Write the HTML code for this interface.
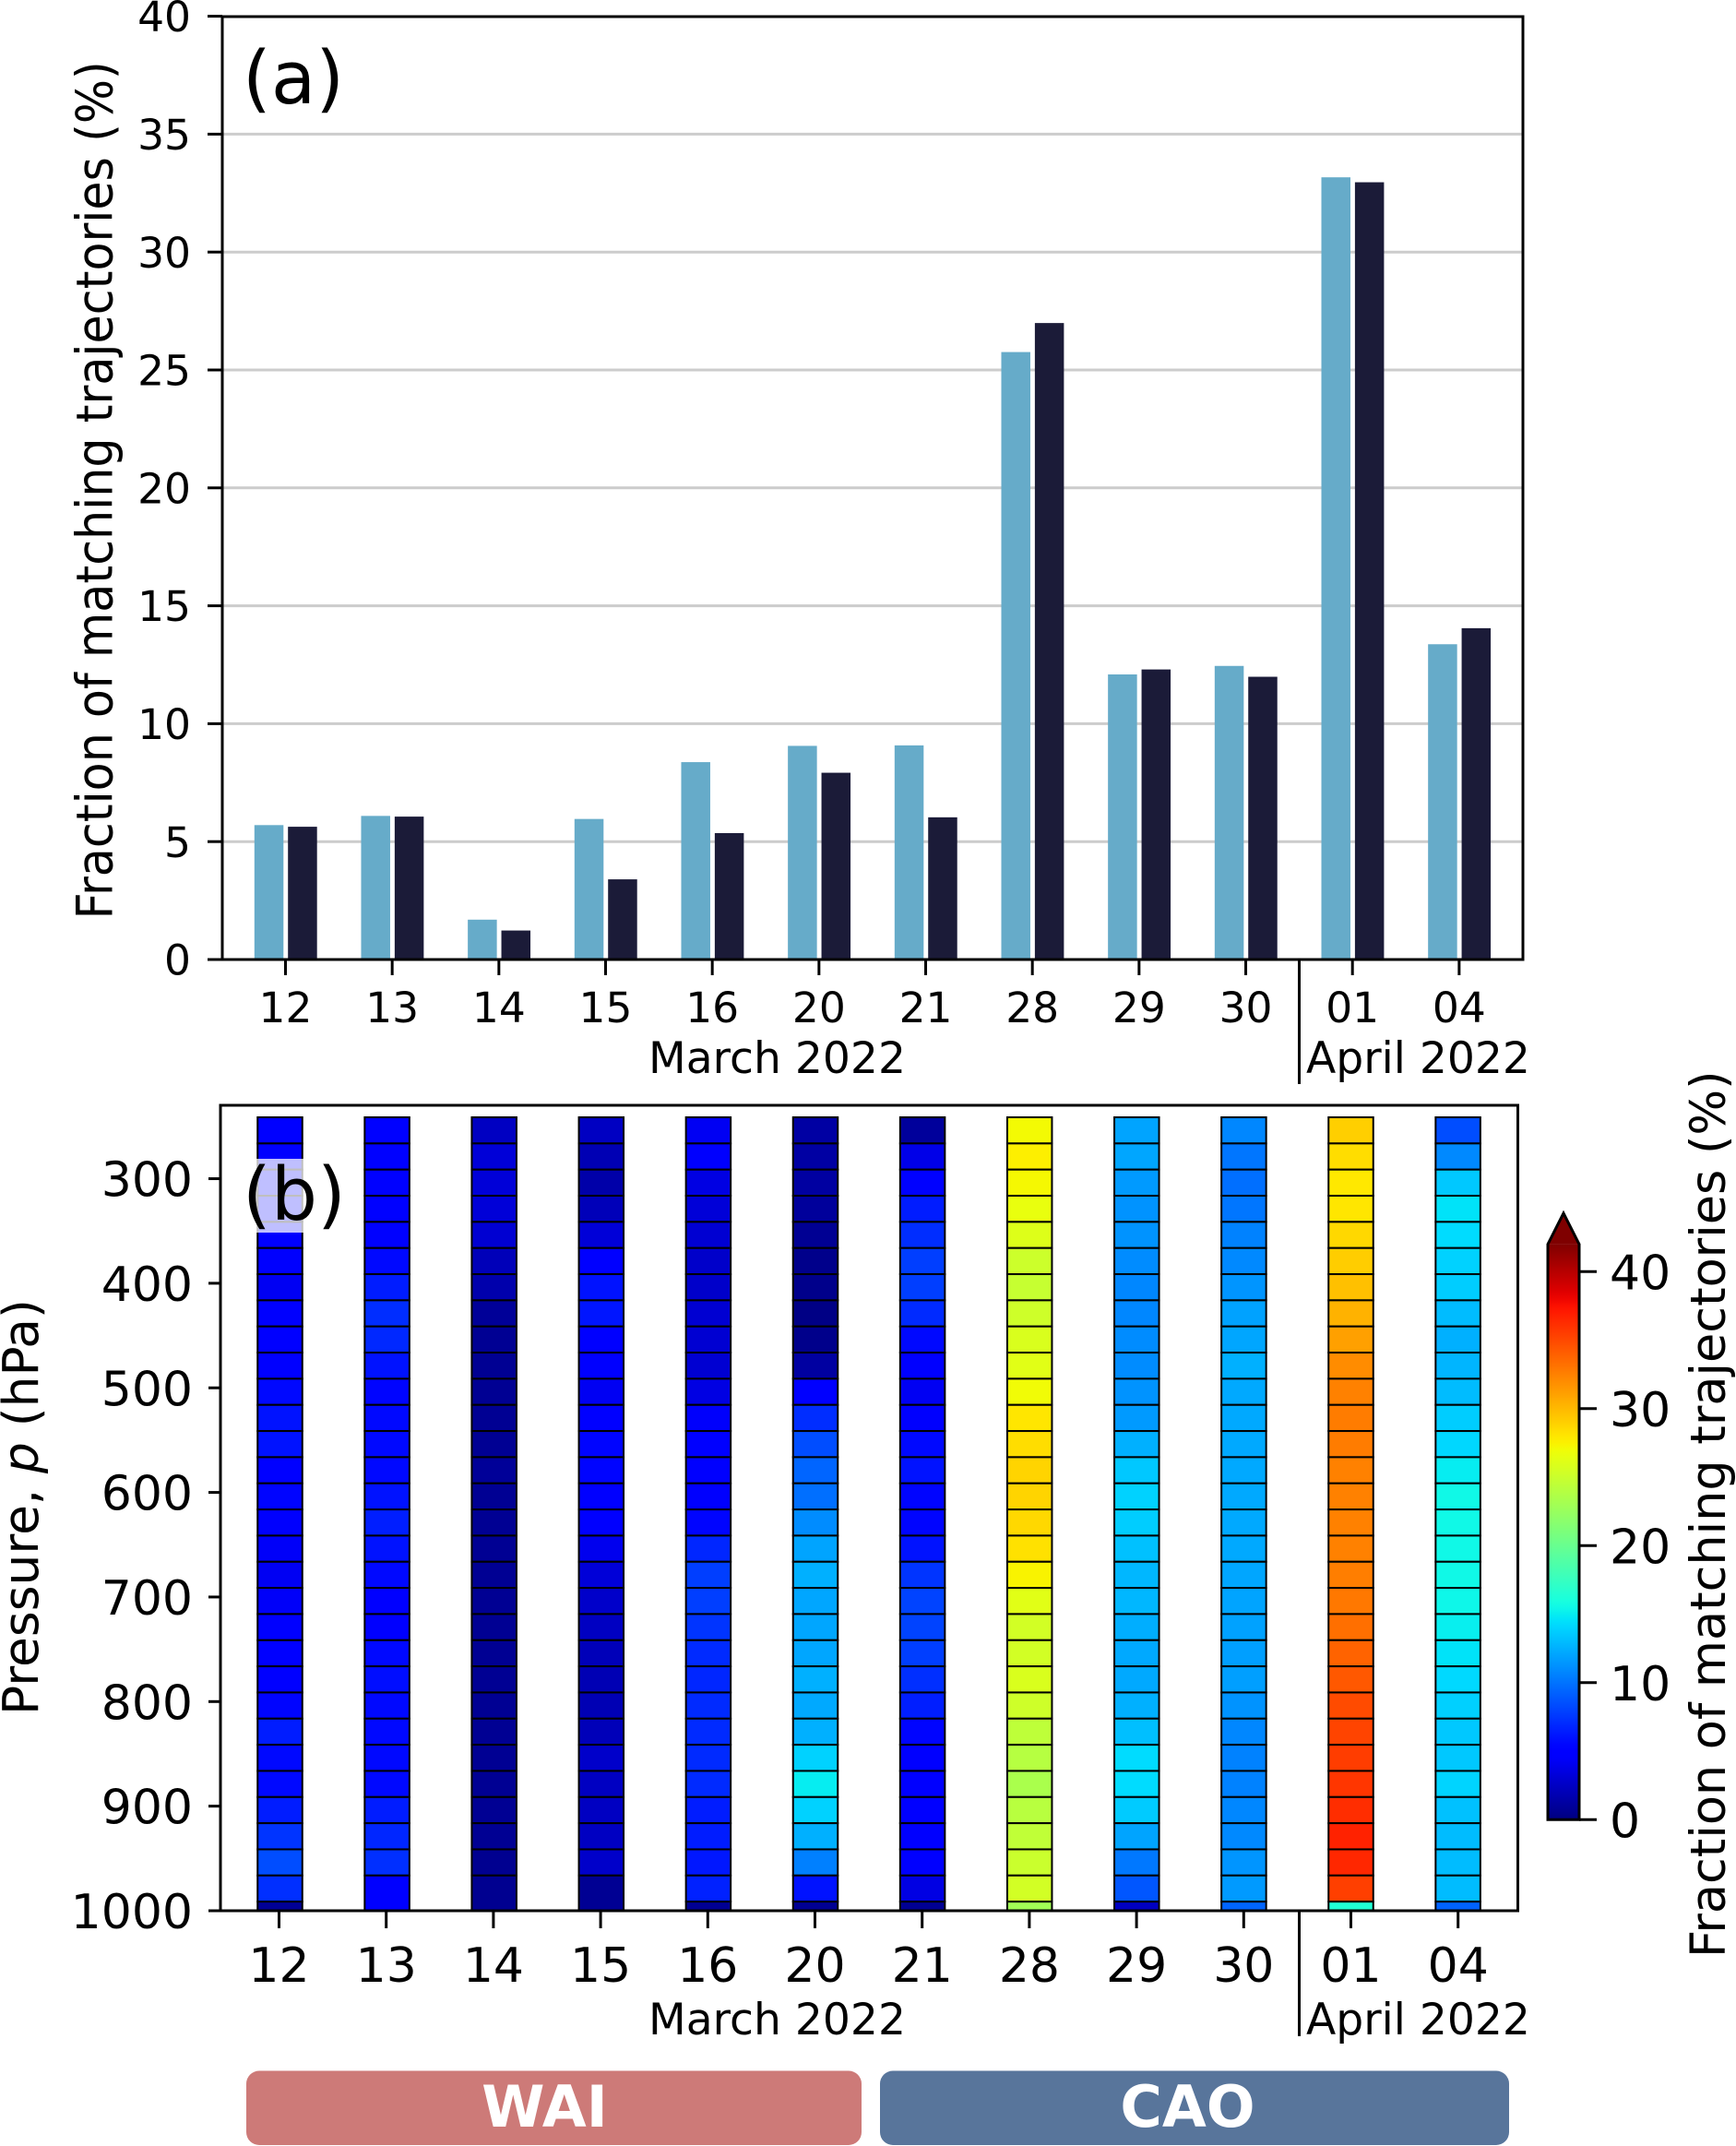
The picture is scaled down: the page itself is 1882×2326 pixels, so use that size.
<!DOCTYPE html>
<html lang="en">
<head>
<meta charset="utf-8">
<title>Fraction of matching trajectories</title>
<style>
html,body{margin:0;padding:0;background:#fff;width:1882px;height:2326px;overflow:hidden}
svg{display:block}
text{font-family:"DejaVu Sans","Liberation Sans",sans-serif;fill:#000}
</style>
</head>
<body>
<svg id="fig" xmlns="http://www.w3.org/2000/svg" width="1882" height="2326" viewBox="0 0 1882 2326">
  <defs>
    <linearGradient id="jetGrad" x1="0" y1="1" x2="0" y2="0"></linearGradient>
  </defs>
  <g id="panelA"></g>
  <g id="panelB"></g>
  <g id="cbar"></g>

  <text font-size="50.7" transform="translate(121.7,996.5) rotate(-90) scale(1,1.08)">Fraction of matching trajectories (%)</text>
  <text font-size="53.4" transform="translate(41,1859) rotate(-90)">Pressure, <tspan font-style="italic">p</tspan> (hPa)</text>
  <text font-size="52.4" transform="translate(1870,2122) rotate(-90)">Fraction of matching trajectories (%)</text>

  <text x="263" y="112" font-size="79">(a)</text>

  <text x="842.5" y="1163" font-size="47.2" text-anchor="middle">March 2022</text>
  <text x="1537.5" y="1163" font-size="47.2" text-anchor="middle">April 2022</text>
  <text x="842.5" y="2205" font-size="47.2" text-anchor="middle">March 2022</text>
  <text x="1537.5" y="2205" font-size="47.2" text-anchor="middle">April 2022</text>
  <line x1="1408.5" x2="1408.5" y1="1040" y2="1175" stroke="#000" stroke-width="3"></line>
  <line x1="1408.5" x2="1408.5" y1="2071" y2="2207" stroke="#000" stroke-width="3"></line>

  <rect x="267" y="2244.5" width="667" height="80.5" rx="14" ry="14" fill="#cd7a78"></rect>
  <text x="590.5" y="2305" font-size="62" font-weight="bold" text-anchor="middle" style="fill:#fff">WAI</text>
  <rect x="954" y="2244.5" width="682" height="80.5" rx="14" ry="14" fill="#58759b"></rect>
  <text x="1287.5" y="2305" font-size="62" font-weight="bold" text-anchor="middle" style="fill:#fff">CAO</text>
</svg>
<script>
// ---- chart data ----
const dayLabels = ['12','13','14','15','16','20','21','28','29','30','01','04'];

// panel (a): bar heights, % of matching trajectories
const seriesLight = [5.70,6.09,1.69,5.96,8.37,9.06,9.08,25.76,12.09,12.45,33.17,13.37];
const seriesDark  = [5.63,6.06,1.23,3.40,5.36,7.92,6.03,26.99,12.30,11.99,32.96,14.05];
const yTicksA = [0,5,10,15,20,25,30,35,40];

// panel (b): fraction per pressure layer, top (low pressure) to bottom. null = merged with layer above
const col12 = [5.2,5.2,5.2,5.2,5.2,4.6,4.2,4.6,4.8,5.0,5.6,6.0,6.0,5.2,5.4,4.6,4.4,4.2,4.4,4.8,4.8,5.0,5.4,6.4,5.6,5.6,6.4,7.4,8.4,7.2,0.8];
const col13 = [5.3,5.3,5.3,5.3,5.3,5.6,6.4,7.1,6.9,6.0,5.4,5.6,5.6,5.6,6.0,6.5,6.0,5.6,5.2,5.2,5.6,5.8,5.6,5.6,5.6,5.6,6.4,6.8,7.2,5.0,null];
const col14 = [2.4,3.2,3.2,3.2,3.0,2.1,1.6,0.9,0.7,0.7,0.7,0.7,0.7,0.9,0.7,0.7,0.7,0.7,0.7,0.7,0.7,0.7,0.7,0.7,0.7,0.7,0.7,0.7,0.6,0.6,null];
const col15 = [2.4,1.9,1.5,2.1,3.2,5.0,6.0,6.1,5.2,5.0,4.2,4.8,5.4,5.4,5.0,5.0,4.0,3.2,2.7,2.4,2.1,1.9,1.9,2.1,2.7,2.4,2.4,2.4,2.7,0.7,null];
const col16 = [4.2,4.6,3.6,3.2,3.0,2.7,2.7,3.0,3.0,3.0,3.6,4.5,4.7,4.6,4.6,5.4,6.8,7.8,7.8,7.4,7.0,6.8,7.0,7.0,7.0,7.0,6.4,6.4,6.2,6.6,0.7];
const col20 = [1.3,1.3,1.2,1.0,0.7,0.4,0.4,0.2,0.4,1.2,4.8,7.1,8.4,9.4,9.8,11.0,12.0,12.5,12.1,12.1,12.1,12.5,12.2,12.5,13.9,15.0,13.9,12.5,10.5,6.0,0.7];
const col21 = [1.0,3.8,5.3,6.4,7.1,7.8,7.8,7.0,5.6,5.0,4.2,4.6,5.6,6.0,5.4,5.4,6.0,7.4,8.0,8.0,7.8,7.2,6.5,5.4,5.0,5.0,4.8,4.8,4.8,3.6,0.7];
const col28 = [27.1,27.6,27.2,26.6,26.0,25.1,24.8,25.2,25.8,26.2,27.0,28.0,28.4,28.8,28.8,28.6,28.2,27.4,26.2,25.4,25.4,25.8,25.2,24.4,24.0,23.4,24.1,24.5,25.0,25.4,22.9];
const col29 = [12.0,12.1,11.6,11.3,11.3,11.0,10.8,10.8,11.0,11.0,11.3,11.6,12.5,13.5,13.9,13.7,13.2,12.8,12.8,12.4,12.2,12.2,12.5,13.1,14.3,14.3,13.6,12.0,10.2,8.8,2.4];
const col30 = [10.8,10.1,9.8,10.1,10.6,10.9,11.4,11.9,12.1,12.5,12.2,12.2,12.2,12.2,12.2,12.2,12.2,12.1,12.0,11.9,11.8,11.8,11.3,10.8,10.6,10.6,10.8,10.9,11.4,11.6,9.4];
const col01 = [29.0,28.4,27.9,28.0,28.6,29.1,29.7,30.3,31.1,32.0,32.5,32.7,32.7,32.5,32.5,32.5,32.5,32.6,32.9,33.3,33.8,34.3,34.9,35.2,35.5,35.8,36.2,36.7,36.5,35.4,16.4];
const col04 = [8.4,10.9,13.5,14.6,14.3,13.9,13.7,13.0,12.5,12.7,13.0,13.7,14.1,15.0,15.5,15.5,15.5,15.5,15.4,15.1,14.6,14.2,13.8,13.5,13.5,14.0,13.2,13.0,13.0,13.0,9.3];
const yTicksB = [300,400,500,600,700,800,900,1000];
const cbarTicks = [0,10,20,30,40];

// ---- scales ----
const NS = 'http://www.w3.org/2000/svg';
const columns = [col12,col13,col14,col15,col16,col20,col21,col28,col29,col30,col01,col04];
const xA = i => 309.5 + 115.67 * i;
const yA = v => 1040 - v * 25.56;
const xB = i => 302.5 + 116.2 * i;
const xCell = i => 303.5 + 116.1 * i;
const yB = p => 2071 - (1000 - p) * 1.1335;
const yC = v => 1972.3 - v * 14.85;
const VMAX = 42, P_TOP = 241.3, P_STEP = 25, P_BOTTOM = 1000;

function interp(t, pts){
  if (t <= pts[0][0]) return pts[0][1];
  for (let k = 1; k < pts.length; k++){
    if (t <= pts[k][0]){
      const a = pts[k-1], b = pts[k];
      return a[1] + (b[1]-a[1]) * (t-a[0]) / (b[0]-a[0]);
    }
  }
  return pts[pts.length-1][1];
}
function jet(t){
  const r = interp(t, [[0,0],[0.35,0],[0.66,1],[0.89,1],[1,0.5]]);
  const g = interp(t, [[0,0],[0.125,0],[0.375,1],[0.64,1],[0.91,0],[1,0]]);
  const b = interp(t, [[0,0.5],[0.11,1],[0.34,1],[0.65,0],[1,0]]);
  return 'rgb(' + Math.round(r*255) + ',' + Math.round(g*255) + ',' + Math.round(b*255) + ')';
}
function make(tag, parent, props, txt){
  const el = document.createElementNS(NS, tag);
  for (const k in props) el.setAttribute(k, props[k]);
  if (txt !== undefined) el.textContent = txt;
  parent.appendChild(el);
  return el;
}

// ---- panel (a) ----
const pa = document.getElementById('panelA');
yTicksA.forEach(v => {
  if (v > 0 && v < 40){
    const g = make('line', pa, {x1:241, x2:1651, y1:yA(v), y2:yA(v), stroke:'#cccccc', 'stroke-width':3});
    
    
  }
  const t = make('line', pa, {x1:225, x2:241, y1:yA(v), y2:yA(v), stroke:'#000', 'stroke-width':3});
  
  
  const l = make('text', pa, {x:207, y:yA(v)+16.6, 'font-size':45.5, 'text-anchor':'end'}, String(v));
  
  
});
dayLabels.forEach((d, i) => {
  const b1 = make('rect', pa, {x:xA(i)-33.7, y:yA(seriesLight[i]), width:31.5, height:yA(0)-yA(seriesLight[i]), fill:'#66abc9'});
  
  
  const b2 = make('rect', pa, {x:xA(i)+2.7, y:yA(seriesDark[i]), width:31.5, height:yA(0)-yA(seriesDark[i]), fill:'#1b1b38'});
  
  
  const t = make('line', pa, {x1:xA(i), x2:xA(i), y1:1040, y2:1057, stroke:'#000', 'stroke-width':3});
  
  
  const l = make('text', pa, {x:xA(i), y:1108, 'font-size':45.5, 'text-anchor':'middle'}, d);
  
  
});
const frameA = make('rect', pa, {x:241, y:18, width:1410, height:1022, fill:'none', stroke:'#000', 'stroke-width':3});



// ---- panel (b) ----
const pb = document.getElementById('panelB');
columns.forEach((col, i) => {
  col.forEach((v, r) => {
    if (v === null) return;
    const p0 = P_TOP + P_STEP * r;
    const merged = r + 1 < col.length && col[r+1] === null;
    const p1 = merged ? P_BOTTOM : Math.min(p0 + P_STEP, P_BOTTOM);
    const c = make('rect', pb, {x:xCell(i)-24.25, y:yB(p0), width:48.5, height:yB(p1)-yB(p0), fill:jet(Math.min(v/VMAX,1)), stroke:'#000', 'stroke-width':2});
    
    
  });
});
yTicksB.forEach(p => {
  const t = make('line', pb, {x1:226, x2:239, y1:yB(p), y2:yB(p), stroke:'#000', 'stroke-width':3});
  
  
  const l = make('text', pb, {x:209, y:yB(p)+19, 'font-size':52, 'text-anchor':'end'}, String(p));
  
  
});
dayLabels.forEach((d, i) => {
  const t = make('line', pb, {x1:xB(i), x2:xB(i), y1:2071, y2:2090, stroke:'#000', 'stroke-width':3});
  
  
  const l = make('text', pb, {x:xB(i), y:2148, 'font-size':52, 'text-anchor':'middle'}, d);
  
  
});
const frameB = make('rect', pb, {x:239, y:1198, width:1406.5, height:873, fill:'none', stroke:'#000', 'stroke-width':3});


const labelBg = make('rect', pb, {x:262, y:1256, width:113, height:80, fill:'#fff', 'fill-opacity':0.75});


const labelB = make('text', pb, {x:263, y:1322, 'font-size':79}, '(b)');



// ---- colorbar ----
const grad = document.getElementById('jetGrad');
for (let s = 0; s <= 84; s++){
  const st = make('stop', grad, {offset:s/84, 'stop-color':jet(s/84)});
  
  
}
const cb = document.getElementById('cbar');
const arrow = make('path', cb, {d:'M1678 ' + yC(VMAX) + ' L1695 1315 L1712 ' + yC(VMAX) + ' Z', fill:'#7f0000'});


const ramp = make('rect', cb, {x:1678, y:yC(VMAX), width:34, height:yC(0)-yC(VMAX), fill:'url(#jetGrad)'});


const outline = make('path', cb, {d:'M1678 ' + yC(0) + ' L1678 ' + yC(VMAX) + ' L1695 1315 L1712 ' + yC(VMAX) + ' L1712 ' + yC(0) + ' Z', fill:'none', stroke:'#000', 'stroke-width':3});


cbarTicks.forEach(v => {
  const t = make('line', cb, {x1:1712, x2:1731, y1:yC(v), y2:yC(v), stroke:'#000', 'stroke-width':3});
  
  
  const l = make('text', cb, {x:1745, y:yC(v)+19, 'font-size':52}, String(v));
  
  
});
</script>
</body>
</html>
